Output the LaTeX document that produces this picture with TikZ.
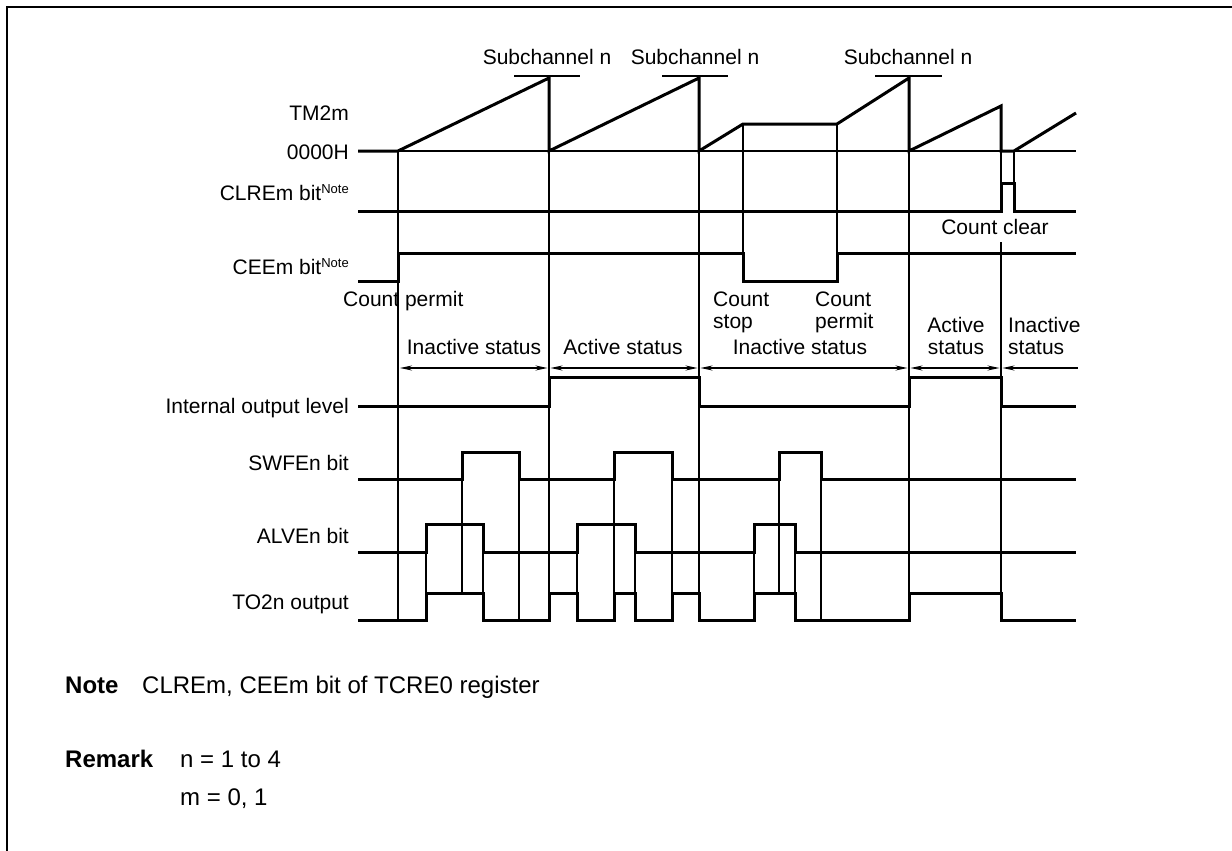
\documentclass[tikz,border=0pt]{standalone}
\usepackage{fontspec}
\setmainfont{Liberation Sans}
\usetikzlibrary{arrows.meta}
\newcommand{\supnote}{\raisebox{7pt}{\fontsize{13}{13}\selectfont Note}}
\begin{document}
\begin{tikzpicture}[x=1pt,y=-1pt,
  wave/.style={line width=3pt, line join=miter},
  guide/.style={line width=1.2pt},
  lbl/.style={font=\fontsize{21}{25}\selectfont, inner sep=0pt},
  notelbl/.style={font=\fontsize{24}{28}\selectfont, inner sep=0pt, anchor=base west},
  stat/.style={guide, {Stealth[length=12pt,width=5pt]}-{Stealth[length=12pt,width=5pt]}},
  statl/.style={guide, {Stealth[length=12pt,width=5pt]}-},
]
\useasboundingbox (0,0) rectangle (1232,851);
% frame
\draw[line width=2pt] (7,851) -- (7,7) -- (1232,7);

% left labels
\node[lbl, anchor=base east] (lTM) at (349,120.5) {TM2m};
\node[lbl, anchor=base east] (lZero) at (349,159) {0000H};
\node[lbl, anchor=base east] (lCLR) at (349,200.5) {CLREm bit\supnote};
\node[lbl, anchor=base east] (lCEE) at (349,274.5) {CEEm bit\supnote};
\node[lbl, anchor=base east] (lInt) at (349,413) {Internal output level};
\node[lbl, anchor=base east] (lSW) at (349,470.5) {SWFEn bit};
\node[lbl, anchor=base east] (lAL) at (349,543.5) {ALVEn bit};
\node[lbl, anchor=base east] (lTO) at (349,609.5) {TO2n output};

% subchannel labels and bars
\node[lbl, anchor=base] (sc1) at (547,65) {Subchannel n};
\node[lbl, anchor=base] (sc2) at (695,65) {Subchannel n};
\node[lbl, anchor=base] (sc3) at (908,65) {Subchannel n};
\draw[guide] (514,76) -- (580,76);
\draw[guide] (662,76) -- (728,76);
\draw[guide] (875,76) -- (942,76);

% thin guide lines
\draw[guide] (398,151) -- (1076,151);
\draw[guide] (398,151) -- (398,620);
\draw[guide] (549,151) -- (549,620);
\draw[guide] (699,151) -- (699,620);
\draw[guide] (909,151) -- (909,620);
\draw[guide] (1001,151) -- (1001,211);
\draw[guide] (1001,242) -- (1001,620);
\draw[guide] (1014,151) -- (1014,183);
\draw[guide] (743,124) -- (743,253);
\draw[guide] (837,124) -- (837,253);
% ALVEn to TO2n guides
\foreach \x in {426,483,577,635,754,795} \draw[guide] (\x,552) -- (\x,593);
% SWFEn to TO2n guides
\foreach \x in {462,614,672,779} \draw[guide] (\x,479) -- (\x,593);
\foreach \x in {519,821} \draw[guide] (\x,479) -- (\x,620);

% status arrows
\draw[stat] (400,368) -- (547.5,368);
\draw[stat] (550.5,368) -- (697.5,368);
\draw[stat] (700.5,368) -- (907.5,368);
\draw[stat] (910.5,368) -- (999.5,368);
\draw[statl] (1002.5,368) -- (1078,368);

% status texts
\node[lbl, anchor=base] (st1) at (474,354.5) {Inactive status};
\node[lbl, anchor=base] (st2) at (623,354.5) {Active status};
\node[lbl, anchor=base] (st3) at (800,354.5) {Inactive status};
\node[lbl, anchor=base] (st4a) at (956,332.5) {Active};
\node[lbl, anchor=base] (st4b) at (956,354.5) {status};
\node[lbl, anchor=base west] (st5a) at (1008,332.5) {Inactive};
\node[lbl, anchor=base west] (st5b) at (1008,354.5) {status};

% count labels
\node[lbl, anchor=base west] (cp1) at (343,306.5) {Count permit};
\node[lbl, anchor=base west] (cs1) at (713,306.5) {Count};
\node[lbl, anchor=base west] (cs2) at (713,328) {stop};
\node[lbl, anchor=base west] (cp2a) at (815,306.5) {Count};
\node[lbl, anchor=base west] (cp2b) at (815,328) {permit};
\node[lbl, anchor=base] (cc) at (995,234.5) {Count clear};

% waveforms
\draw[wave] (358,151) -- (398,151) -- (549,78) -- (549,151) -- (699,78) -- (699,151)
  -- (743,124) -- (837,124) -- (909,78) -- (909,151) -- (1001,106) -- (1001,151)
  -- (1014,151) -- (1076,113);
\draw[wave] (358,211) -- (1001,211) -- (1001,183) -- (1014,183) -- (1014,211) -- (1076,211);
\draw[wave] (358,281) -- (398,281) -- (398,253) -- (743,253) -- (743,281) -- (837,281)
  -- (837,253) -- (1076,253);
\draw[wave] (358,406) -- (549,406) -- (549,377) -- (699,377) -- (699,406) -- (909,406)
  -- (909,377) -- (1001,377) -- (1001,406) -- (1076,406);
\draw[wave] (358,479) -- (462,479) -- (462,452) -- (519,452) -- (519,479) -- (614,479)
  -- (614,452) -- (672,452) -- (672,479) -- (779,479) -- (779,452) -- (821,452)
  -- (821,479) -- (1076,479);
\draw[wave] (358,552) -- (426,552) -- (426,524) -- (483,524) -- (483,552) -- (577,552)
  -- (577,524) -- (635,524) -- (635,552) -- (754,552) -- (754,524) -- (795,524)
  -- (795,552) -- (1076,552);
\draw[wave] (358,620) -- (426,620) -- (426,593) -- (483,593) -- (483,620) -- (549,620)
  -- (549,593) -- (577,593) -- (577,620) -- (614,620) -- (614,593) -- (635,593)
  -- (635,620) -- (672,620) -- (672,593) -- (699,593) -- (699,620) -- (754,620)
  -- (754,593) -- (795,593) -- (795,620) -- (909,620) -- (909,593) -- (1001,593)
  -- (1001,620) -- (1076,620);

% note and remark
\node[notelbl] (note) at (65,693) {\textbf{Note}};
\node[notelbl] (notetxt) at (142,693) {CLREm, CEEm bit of TCRE0 register};
\node[notelbl] (remark) at (65,767) {\textbf{Remark}};
\node[notelbl] (rn) at (180,767) {n = 1 to 4};
\node[notelbl] (rm) at (180,805) {m = 0, 1};
\end{tikzpicture}
\end{document}
